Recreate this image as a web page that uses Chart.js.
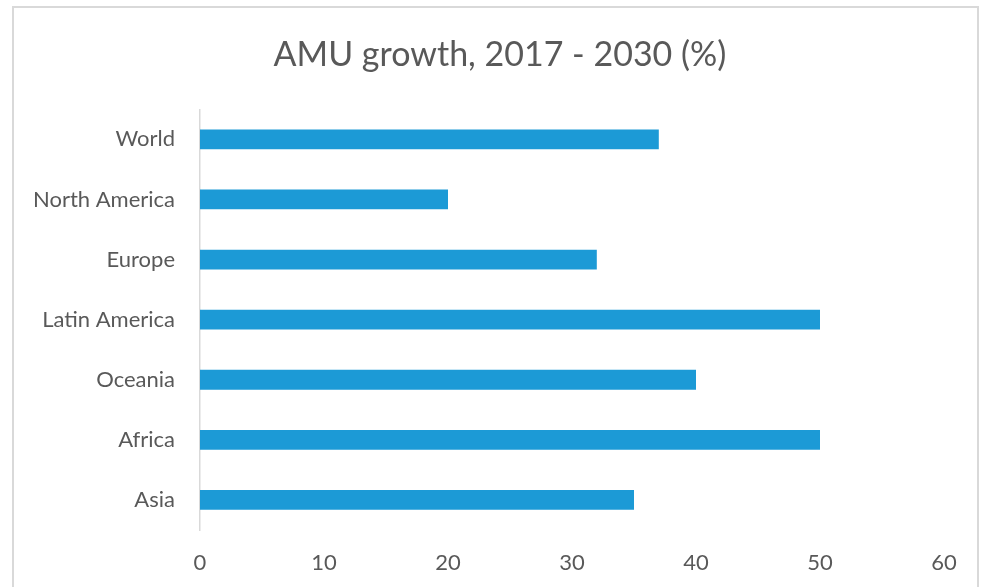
<!DOCTYPE html>
<html>
<head>
<meta charset="utf-8">
<script src="https://cdn.jsdelivr.net/npm/chart.js@4"></script>
<style>
    html, body { margin: 0; padding: 0; background: #fff; overflow: hidden; }
    #wrap { position: absolute; left: 0; top: 0; width: 982px; height: 587px; }
    #frame { position: absolute; left: 12px; top: 6px; width: 967px; height: 600px; border: 2px solid #d9d9d9; box-sizing: border-box; pointer-events: none; }
</style>
</head>
<body>
<div id="wrap"><canvas id="amuChart" width="982" height="587"></canvas></div>
<div id="frame"></div>
<script>
// Regions (top to bottom) and AMU growth 2017-2030, in %
const regions = ['World', 'North America', 'Europe', 'Latin America', 'Oceania', 'Africa', 'Asia'];
const growth = [37, 20, 32, 50, 40, 50, 35];
const xTicks = [0, 10, 20, 30, 40, 50, 60];

document.addEventListener('DOMContentLoaded', function () {
    Chart.defaults.font.family = "Lato, sans-serif";
    Chart.defaults.color = '#595959';

    const ctx = document.getElementById('amuChart').getContext('2d');

    // the original title sits a bit right of the canvas centre
    const shiftTitle = {
        id: 'shiftTitle',
        afterLayout(chart) {
            if (chart.titleBlock) chart.titleBlock.left = 56;
        }
    };

    new Chart(ctx, {
        type: 'bar',
        data: {
            labels: regions,
            datasets: [{
                label: 'AMU growth',
                data: growth,
                backgroundColor: '#1c9ad6',
                borderWidth: 0,
                barPercentage: 0.33,
                categoryPercentage: 1.0
            }]
        },
        options: {
            indexAxis: 'y',
            responsive: false,
            animation: false,
            layout: { padding: { left: 0, right: 38, top: 0, bottom: 0 } },
            plugins: {
                legend: { display: false },
                tooltip: { enabled: false },
                title: {
                    display: true,
                    text: 'AMU growth, 2017 - 2030 (%)',
                    color: '#595959',
                    font: { size: 34, weight: 'normal' },
                    padding: { top: 35, bottom: 33.5 }
                }
            },
            scales: {
                x: {
                    min: 0,
                    max: 60,
                    afterBuildTicks: function (scale) {
                        scale.ticks = xTicks.map(v => ({ value: v }));
                    },
                    afterFit: function (scale) { scale.height = 57; },
                    grid: { display: false, drawTicks: false },
                    border: { display: false },
                    ticks: { padding: 20, font: { size: 22 }, maxRotation: 0 }
                },
                y: {
                    afterFit: function (scale) { scale.width = 200; },
                    grid: { display: false, drawTicks: false },
                    border: { display: true, color: '#d9d9d9', width: 1.5 },
                    ticks: { padding: 25, font: { size: 22 } }
                }
            }
        },
        plugins: [shiftTitle]
    });
});
</script>
</body>
</html>
